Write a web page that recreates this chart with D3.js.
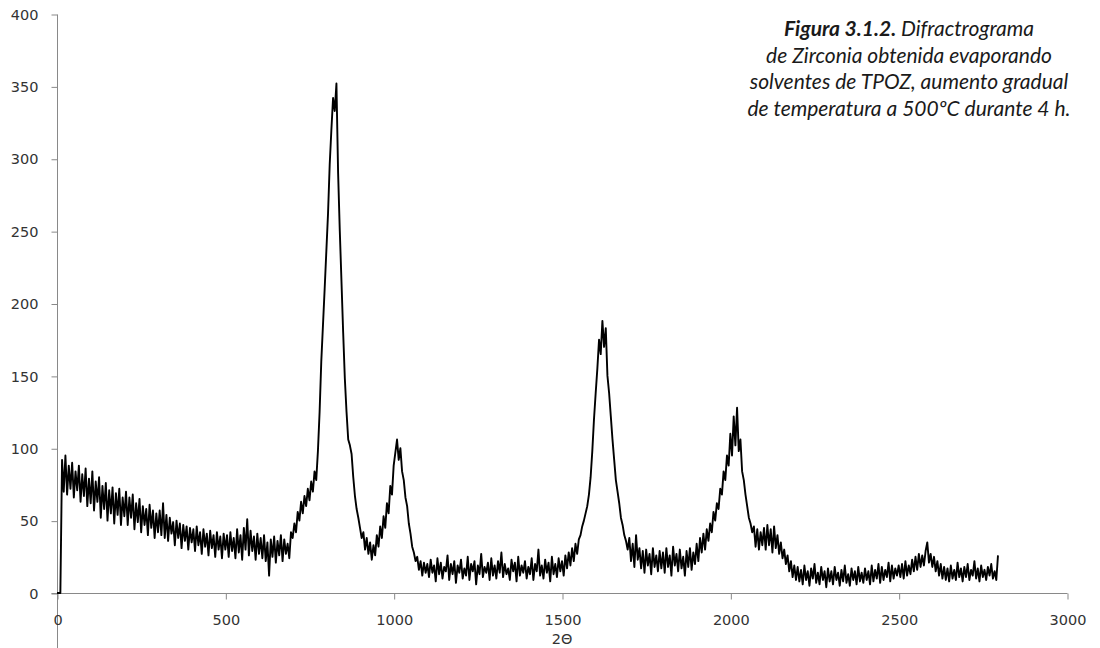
<!DOCTYPE html>
<html>
<head>
<meta charset="utf-8">
<script src="https://cdn.jsdelivr.net/npm/d3@7"></script>
<style>
  body { margin: 0; background: #fff; }
  .tick text { font-family: "DejaVu Sans", Verdana, sans-serif; font-size: 14.5px; fill: #333; }
  .caption { font-family: Lato, "Open Sans", sans-serif; font-style: italic; font-size: 21px; fill: #1a1a1a; }
</style>
</head>
<body>
<svg id="chart"></svg>
<script>
const WIDTH = 1100, HEIGHT = 648;

// 2θ grid of the scan (one reading every 5 units starting at 0)
const X_START = 0, X_STEP = 5;

// intensity, 20 readings per row (100 units of 2θ)
const intensity = [
  0,0,0,92,70,95,68,88,72,90,66,84,71,88,63,82,67,86,60,79,
  62,84,57,77,63,80,52,74,58,76,50,71,55,73,48,69,54,72,47,66,
  53,70,47,66,52,68,44,62,49,65,42,60,47,58,40,61,45,57,38,55,
  42,57,40,62,38,54,36,52,41,49,33,50,38,48,31,47,36,46,30,45,
  35,44,29,46,33,42,27,44,32,41,26,43,31,40,25,42,30,39,24,41,
  30,40,25,42,29,38,24,44,28,40,23,45,30,51,26,43,29,39,23,41,
  27,38,24,40,22,35,12,37,25,39,21,36,26,40,22,37,27,34,24,42,
  38,48,42,56,50,63,55,67,60,72,64,77,70,84,78,98,125,160,185,210,
  236,262,296,320,342,333,352,290,250,215,180,148,125,106,102,96,80,67,58,52,
  45,38,42,30,38,27,35,23,33,26,40,32,46,38,53,45,62,55,74,68,
  88,97,106,92,100,84,78,66,60,48,41,32,28,22,25,16,22,12,21,14,
  20,11,23,14,19,8,24,13,21,10,18,15,26,9,20,13,22,7,19,14,
  23,10,17,12,25,9,20,15,22,6,19,13,27,11,18,14,21,9,24,12,
  19,10,22,14,28,11,20,13,17,9,23,15,21,8,25,12,19,14,22,10,
  18,13,24,9,20,15,30,12,19,10,23,14,21,8,25,13,20,11,24,15,
  22,12,26,17,28,19,31,22,34,27,37,40,46,50,55,60,68,80,98,120,
  138,155,175,165,188,170,183,150,138,122,106,92,78,70,62,52,47,40,36,30,
  38,22,34,18,40,23,31,17,29,14,30,19,27,13,31,18,26,15,29,17,
  28,14,31,18,26,12,32,19,27,15,30,17,25,12,29,18,31,16,28,20,
  34,22,38,28,41,30,44,36,48,42,56,50,62,58,72,68,84,78,95,88,
  110,95,122,102,128,98,106,84,78,68,60,52,48,42,46,32,44,30,42,33,
  45,30,47,33,44,28,46,31,40,27,35,24,30,20,26,15,22,11,19,9,
  18,8,16,6,19,9,15,5,17,10,20,7,14,6,18,9,15,4,17,8,
  15,6,18,9,14,5,16,8,19,7,13,5,17,9,15,6,18,8,14,7,
  17,9,15,6,19,8,16,10,20,7,18,9,16,11,21,8,19,10,17,12,
  19,11,20,10,22,12,19,13,23,15,25,16,27,18,26,19,29,35,21,27,
  18,25,15,22,12,20,10,18,9,17,8,19,10,16,9,21,11,17,8,18,
  11,20,9,16,12,22,10,17,8,19,11,16,9,18,12,20,10,15,9,26
];

const xTicks = [0, 500, 1000, 1500, 2000, 2500, 3000];
const yTicks = [0, 50, 100, 150, 200, 250, 300, 350, 400];
const xLabel = '2\u0398';

const captionLines = [
  [{t: 'Figura 3.1.2.', bold: true}, {t: ' Difractrograma'}],
  [{t: 'de Zirconia obtenida evaporando'}],
  [{t: 'solventes de TPOZ, aumento gradual'}],
  [{t: 'de temperatura a 500\u00baC durante 4 h.'}]
];

const AXIS_COLOR = '#898989';
const plot = {left: 57, right: 1067, top: 14, bottom: 593};

let svg = d3.select('#chart')
  .attr('width', WIDTH)
  .attr('height', HEIGHT);

let x = d3.scaleLinear().domain([0, 3000]).range([plot.left, plot.right]);
let y = d3.scaleLinear().domain([0, 400]).range([plot.bottom, plot.top]);

// y axis, its line runs on past the x axis to the bottom edge
let yAxis = svg.append('g')
  .attr('transform', `translate(${plot.left + 0.5},0.5)`)
  .call(d3.axisLeft(y).tickValues(yTicks).tickFormat(d3.format('d'))
    .tickSize(6).tickSizeOuter(0).tickPadding(13));
yAxis.select('.domain').remove();
yAxis.selectAll('.tick line').attr('stroke', AXIS_COLOR);
yAxis.append('line')
  .attr('x1', 0).attr('x2', 0)
  .attr('y1', plot.top).attr('y2', HEIGHT)
  .attr('stroke', AXIS_COLOR);

// x axis
let xAxis = svg.append('g')
  .attr('transform', `translate(0.5,${plot.bottom + 0.5})`)
  .call(d3.axisBottom(x).tickValues(xTicks).tickFormat(d3.format('d'))
    .tickSize(6).tickSizeOuter(0));
xAxis.select('.domain').remove();
xAxis.selectAll('.tick line').attr('stroke', AXIS_COLOR);
xAxis.selectAll('.tick text').attr('y', 26).attr('dy', '0.35em');
xAxis.append('line')
  .attr('x1', plot.left - 6).attr('x2', plot.right)
  .attr('y1', 0).attr('y2', 0)
  .attr('stroke', AXIS_COLOR);

svg.append('text')
  .attr('x', (plot.left + plot.right) / 2)
  .attr('y', 639)
  .attr('dy', '0.35em')
  .attr('text-anchor', 'middle')
  .style('font-family', '"DejaVu Sans", Verdana, sans-serif')
  .style('font-size', '14.5px')
  .style('fill', '#333')
  .text(xLabel);

// trace
let line = d3.line()
  .x((d, i) => x(X_START + i * X_STEP))
  .y(d => y(d));

svg.append('path')
  .datum(intensity)
  .attr('d', line)
  .attr('fill', 'none')
  .attr('stroke', '#000')
  .attr('stroke-width', 1.9)
  .attr('stroke-linejoin', 'round');

// caption
let capG = svg.append('g');
captionLines.forEach((parts, i) => {
  let t = capG.append('text')
    .attr('class', 'caption')
    .attr('text-anchor', 'middle')
    .attr('x', 909)
    .attr('y', 36 + i * 26.5);
  parts.forEach(p => {
    t.append('tspan')
      .style('font-weight', p.bold ? 'bold' : 'normal')
      .text(p.t);
  });
});
</script>
</body>
</html>
